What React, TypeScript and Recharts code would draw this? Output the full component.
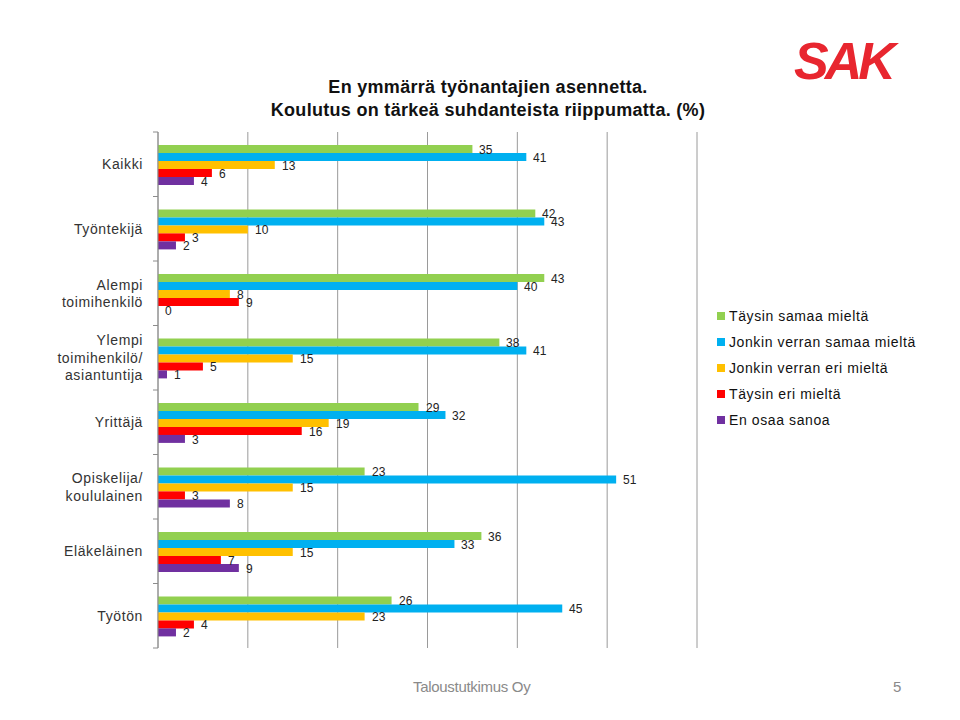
import React from 'react';
import {
  BarChart,
  Bar,
  XAxis,
  YAxis,
  CartesianGrid,
  LabelList,
} from 'recharts';

/* ── Data ───────────────────────────────────────────────────────── */
const categories = [
  'Kaikki',
  'Työntekijä',
  'Alempi\ntoimihenkilö',
  'Ylempi\ntoimihenkilö/\nasiantuntija',
  'Yrittäjä',
  'Opiskelija/\nkoululainen',
  'Eläkeläinen',
  'Työtön',
];
const fullyAgree = [35, 42, 43, 38, 29, 23, 36, 26];
const somewhatAgree = [41, 43, 40, 41, 32, 51, 33, 45];
const somewhatDisagree = [13, 10, 8, 15, 19, 15, 15, 23];
const fullyDisagree = [6, 3, 9, 5, 16, 3, 7, 4];
const dontKnow = [4, 2, 0, 1, 3, 8, 9, 2];
const xTicks = [0, 10, 20, 30, 40, 50, 60];

const series = [
  { key: 'fullyAgree', name: 'Täysin samaa mieltä', color: '#92D050' },
  { key: 'somewhatAgree', name: 'Jonkin verran samaa mieltä', color: '#00B0F0' },
  { key: 'somewhatDisagree', name: 'Jonkin verran eri mieltä', color: '#FFC000' },
  { key: 'fullyDisagree', name: 'Täysin eri mieltä', color: '#FF0000' },
  { key: 'dontKnow', name: 'En osaa sanoa', color: '#7030A0' },
];

const data = categories.map((name, i) => ({
  name,
  fullyAgree: fullyAgree[i],
  somewhatAgree: somewhatAgree[i],
  somewhatDisagree: somewhatDisagree[i],
  fullyDisagree: fullyDisagree[i],
  dontKnow: dontKnow[i],
}));

/* ── Layout ─────────────────────────────────────────────────────── */
const W = 960;
const H = 720;
const margin = { top: 132, right: 263, bottom: 72, left: 8 };
const yAxisWidth = 150;
const bandSize = (H - margin.top - margin.bottom) / categories.length;
const font = "'Liberation Sans', Arial, sans-serif";

const CategoryTick = (props: any) => {
  const { x, y, payload, index } = props;
  const lines = String(payload.value).split('\n');
  const lh = 17.5;
  const startY = y - ((lines.length - 1) * lh) / 2;
  return (
    <g>
      <line x1={x - 5} x2={x} y1={y + bandSize / 2} y2={y + bandSize / 2} stroke="#8c8c8c" />
      {index === 0 && (
        <line x1={x - 5} x2={x} y1={y - bandSize / 2} y2={y - bandSize / 2} stroke="#8c8c8c" />
      )}
      <text
        x={x - 15}
        y={startY}
        textAnchor="end"
        dominantBaseline="central"
        fontFamily={font}
        fontSize={14}
        letterSpacing={0.6}
        fill="#333"
      >
        {lines.map((l, i) => (
          <tspan key={i} x={x - 15} y={startY + i * lh}>
            {l}
          </tspan>
        ))}
      </text>
    </g>
  );
};

// value label to the right of each bar
const ValueLabel = (props: any) => {
  const { x, y, width, height, value } = props;
  if (value === undefined || value === null) return null;
  return (
    <text
      x={Number(x) + Math.round(Number(width || 0)) + 7}
      y={Number(y) + Number(height) / 2 + 1}
      dominantBaseline="central"
      fontFamily={font}
      fontSize={12}
      fill="#222"
    >
      {value}
    </text>
  );
};

export default function App() {
  return (
    <div
      style={{
        position: 'absolute',
        left: 0,
        top: 0,
        width: W,
        height: H,
        background: '#fff',
        overflow: 'hidden',
        fontFamily: font,
      }}
    >
      {/* Logo */}
      <div
        style={{
          position: 'absolute',
          left: 794,
          top: 30,
          fontSize: 52,
          fontWeight: 900,
          fontStyle: 'italic',
          color: '#E8262F',
          letterSpacing: -4,
          lineHeight: '62px',
        }}
      >
        SAK
      </div>

      {/* Title */}
      <div
        style={{
          position: 'absolute',
          left: 0,
          top: 76,
          width: 976,
          textAlign: 'center',
          fontSize: 18,
          fontWeight: 700,
          lineHeight: '23px',
          color: '#111',
          letterSpacing: 0.3,
        }}
      >
        En ymmärrä työnantajien asennetta.
        <br />
        Koulutus on tärkeä suhdanteista riippumatta. (%)
      </div>

      <BarChart
        width={W}
        height={H}
        data={data}
        layout="vertical"
        margin={margin}
        barCategoryGap="20%"
        barGap={0}
        style={{ position: 'absolute', left: 0, top: 0 }}
      >
        <CartesianGrid horizontal={false} stroke="#9a9a9a" strokeWidth={1} />
        <XAxis type="number" domain={[0, 60]} ticks={xTicks} hide />
        <YAxis
          type="category"
          dataKey="name"
          width={yAxisWidth}
          axisLine={{ stroke: '#8c8c8c' }}
          tickLine={false}
          tickSize={0}
          tickMargin={0}
          tick={<CategoryTick />}
          interval={0}
        />
        {series.map((s) => (
          <Bar
            key={s.key}
            dataKey={s.key}
            name={s.name}
            fill={s.color}
            minPointSize={0.01}
            isAnimationActive={false}
          >
            <LabelList dataKey={s.key} content={<ValueLabel />} />
          </Bar>
        ))}
      </BarChart>

      {/* Legend */}
      <div
        style={{
          position: 'absolute',
          left: 717,
          top: 303,
          fontSize: 14,
          letterSpacing: 0.6,
          color: '#111',
        }}
      >
        {series.map((s) => (
          <div key={s.key} style={{ display: 'flex', alignItems: 'center', height: 26 }}>
            <span
              style={{
                display: 'inline-block',
                width: 8,
                height: 8,
                backgroundColor: s.color,
                marginRight: 4,
              }}
            />
            {s.name}
          </div>
        ))}
      </div>

      {/* Footer */}
      <div
        style={{
          position: 'absolute',
          left: 413,
          top: 678,
          fontSize: 15,
          color: '#8a8a8a',
          letterSpacing: -0.3,
        }}
      >
        Taloustutkimus Oy
      </div>
      <div style={{ position: 'absolute', left: 893, top: 678, fontSize: 15, color: '#8a8a8a' }}>
        5
      </div>
    </div>
  );
}
